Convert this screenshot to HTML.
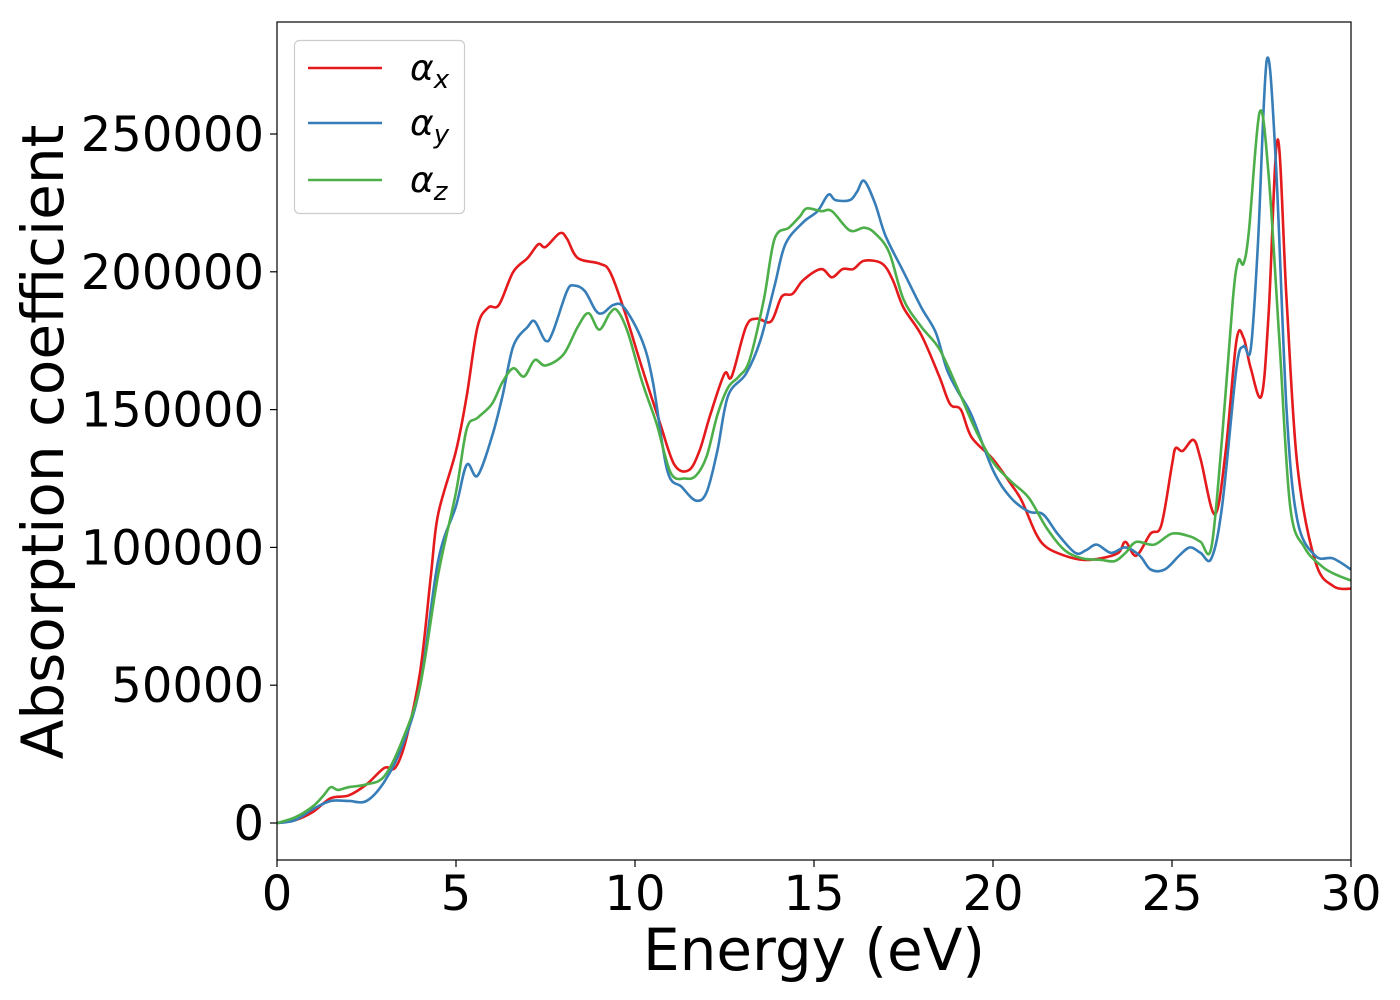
<!DOCTYPE html>
<html><head><meta charset="utf-8"><style>
html,body{margin:0;padding:0;background:#fff;}
svg{display:block;font-family:"DejaVu Sans","Liberation Sans",sans-serif;}
</style></head><body>
<svg id="chart" width="1400" height="1000"></svg>
<script>
const categoriesEnergyX=[0,0.5,1,1.5,2,2.5,3,3.3,3.6,4,4.3,4.5,5,5.3,5.6,5.9,6.2,6.6,7,7.3,7.5,7.9,8.1,8.4,9,9.3,9.7,10.2,10.7,11.1,11.5,11.8,12.1,12.5,12.7,13.1,13.4,13.8,14.1,14.4,14.7,15.2,15.5,15.8,16.1,16.4,16.9,17.2,17.5,18,18.5,18.8,19.1,19.4,20,20.5,20.8,21.2,21.5,22,22.5,23,23.5,23.7,24,24.4,24.7,25,25.1,25.3,25.6,25.8,26.2,26.5,26.8,27,27.2,27.5,27.7,27.95,28.2,28.5,29,29.5,30];
const seriesAlphaX=[0,1000,4000,9000,10000,14000,20000,20000,30000,55000,90000,112000,135000,155000,180000,187000,188000,200000,205000,210000,209000,214000,212000,205000,203000,200000,186000,165000,145000,130000,128000,135000,148000,163000,162000,180000,183000,182000,191000,192000,197000,201000,198000,201000,201000,204000,203000,197000,187000,177000,162000,152000,150000,140000,132000,123000,117000,105000,100000,97000,95500,96000,98000,102000,97000,105000,108000,130000,136000,135000,139000,132000,112000,135000,175000,176000,165000,155000,185000,248000,190000,130000,95000,86000,85000];
const categoriesEnergyY=[0,0.5,1,1.5,2,2.5,3,3.5,4,4.5,5,5.3,5.6,6,6.3,6.6,7,7.2,7.5,7.7,8.1,8.3,8.6,8.9,9.1,9.4,9.7,10.2,10.5,10.9,11.3,11.7,12,12.3,12.6,13.1,13.5,13.9,14.2,14.7,15.1,15.4,15.6,16,16.2,16.4,16.7,17,17.5,18,18.4,18.7,19,19.4,20,20.5,21,21.4,21.8,22.3,22.6,22.9,23.3,23.7,24.1,24.4,24.8,25.2,25.5,25.8,26.1,26.4,26.8,27,27.2,27.4,27.65,27.9,28.2,28.5,29,29.5,30];
const seriesAlphaY=[0,1000,5000,8000,8000,8000,15000,28000,50000,95000,115000,130000,126000,140000,155000,173000,180000,182000,175000,178000,193000,195000,193000,186000,185000,188000,187000,175000,160000,128000,122000,117000,120000,135000,155000,163000,175000,195000,210000,218000,222000,228000,226000,226000,229000,233000,225000,213000,200000,187000,178000,165000,157000,148000,128000,118000,113000,112000,105000,98000,99000,101000,98000,100000,97000,92000,92000,97000,100000,98000,96000,115000,165000,173000,172000,210000,277000,240000,150000,110000,97000,96000,92000];
const categoriesEnergyZ=[0,0.5,1,1.3,1.5,1.7,2,2.5,3,3.5,4,4.5,5,5.3,5.6,6,6.3,6.6,6.9,7.2,7.5,8,8.4,8.7,9,9.3,9.5,9.8,10.2,10.6,11,11.4,11.7,12,12.3,12.6,12.9,13.2,13.6,13.9,14.3,14.6,14.8,15.2,15.5,16,16.4,16.7,17.1,17.5,18,18.5,19,19.5,20,20.5,21,21.5,22,22.5,23,23.4,23.7,24,24.5,25,25.5,25.8,26.1,26.4,26.7,26.85,27,27.15,27.45,27.7,28,28.3,28.7,29.2,29.6,30];
const seriesAlphaZ=[0,2000,6000,10000,13000,12000,13000,14000,17000,30000,50000,90000,120000,143000,147000,152000,160000,165000,162000,168000,166000,170000,180000,185000,179000,185000,186000,178000,160000,145000,127000,125000,126000,133000,148000,158000,162000,168000,190000,212000,216000,220000,223000,222000,222000,215000,216000,214000,207000,190000,180000,172000,158000,143000,131000,124000,118000,107000,99000,96000,95500,95000,98000,102000,101000,105000,104000,102000,100000,140000,190000,204000,203000,215000,258000,235000,175000,115000,100000,93000,90000,88000];
const xTickLabels=["0","5","10","15","20","25","30"];
const xTickValues=[0,5,10,15,20,25,30];
const yTickLabels=["0","50000","100000","150000","200000","250000"];
const yTickValues=[0,50000,100000,150000,200000,250000];

const L=277,R=1351,T=22,B=860;
const xs=v=>L+(v-0)/30*(R-L);
const ys=v=>823-v*0.002756;
const NS="http://www.w3.org/2000/svg";
const svg=document.getElementById('chart');
function mk(tag,attrs,parent){const e=document.createElementNS(NS,tag);for(const k in attrs)e.setAttribute(k,attrs[k]);(parent||svg).appendChild(e);return e;}

function pathFrom(xv,yv){
  const p=xv.map((x,i)=>[xs(x),ys(yv[i])]);
  let d="M"+p[0][0].toFixed(2)+","+p[0][1].toFixed(2);
  for(let i=0;i<p.length-1;i++){
    const p0=p[i-1]||p[i],p1=p[i],p2=p[i+1],p3=p[i+2]||p2;
    const c1=[p1[0]+(p2[0]-p0[0])/6,p1[1]+(p2[1]-p0[1])/6];
    const c2=[p2[0]-(p3[0]-p1[0])/6,p2[1]-(p3[1]-p1[1])/6];
    d+="C"+c1[0].toFixed(2)+","+c1[1].toFixed(2)+" "+c2[0].toFixed(2)+","+c2[1].toFixed(2)+" "+p2[0].toFixed(2)+","+p2[1].toFixed(2);
  }
  return d;
}
const defs=mk('defs',{});
const cp=mk('clipPath',{id:'clip'},defs);
mk('rect',{x:L,y:T,width:R-L,height:B-T},cp);

const g=mk('g',{'clip-path':'url(#clip)'});


const series=[[categoriesEnergyX,seriesAlphaX,'#e41a1c','line-alpha-x'],[categoriesEnergyY,seriesAlphaY,'#377eb8','line-alpha-y'],[categoriesEnergyZ,seriesAlphaZ,'#4daf4a','line-alpha-z']];
for(const [xv,yv,c,n] of series){
  const p=mk('path',{d:pathFrom(xv,yv),fill:'none',stroke:c,'stroke-width':2.6,'stroke-linejoin':'round'},g);
  
  
}
const frame=mk('rect',{x:L,y:T,width:R-L,height:B-T,fill:'none',stroke:'#000','stroke-width':1.2});



xTickValues.forEach((v,i)=>{
  const x=xs(v);
  const t=mk('line',{x1:x,x2:x,y1:B,y2:B+7,stroke:'#000','stroke-width':1.2});
  
  
  const tx=mk('text',{x:x,y:B+50,'font-size':48,'text-anchor':'middle'});
  tx.textContent=xTickLabels[i];
  
  
});
yTickValues.forEach((v,i)=>{
  const y=ys(v);
  const t=mk('line',{x1:L-7,x2:L,y1:y,y2:y,stroke:'#000','stroke-width':1.2});
  
  
  const tx=mk('text',{x:L-13,y:y+17,'font-size':48,'text-anchor':'end'});
  tx.textContent=yTickLabels[i];
  
  
});
const xl=mk('text',{x:(L+R)/2,y:970,'font-size':58,'text-anchor':'middle'});
xl.textContent='Energy (eV)';


const yl=mk('text',{x:0,y:0,'font-size':58,'text-anchor':'middle',transform:'translate(63,442) rotate(-90)'});
yl.textContent='Absorption coefficient';



const lg=mk('g',{});


mk('rect',{x:294.5,y:40.5,width:170,height:173,rx:5,fill:'#fff',stroke:'#ccc','stroke-width':1.2},lg);
const labs=[['x',68],['y',123],['z',180]];
series.forEach((s,i)=>{
  const y=labs[i][1];
  const e=mk('g',{},lg);
  
  
  mk('line',{x1:308,x2:382,y1:y,y2:y,stroke:s[2],'stroke-width':2.6},e);
  const t=mk('text',{x:410,y:y+12,'font-size':36,'font-style':'italic'},e);
  t.textContent='α';
  const sub=mk('tspan',{dy:8,'font-size':26},t);
  sub.textContent=labs[i][0];
});
</script>
</body></html>
